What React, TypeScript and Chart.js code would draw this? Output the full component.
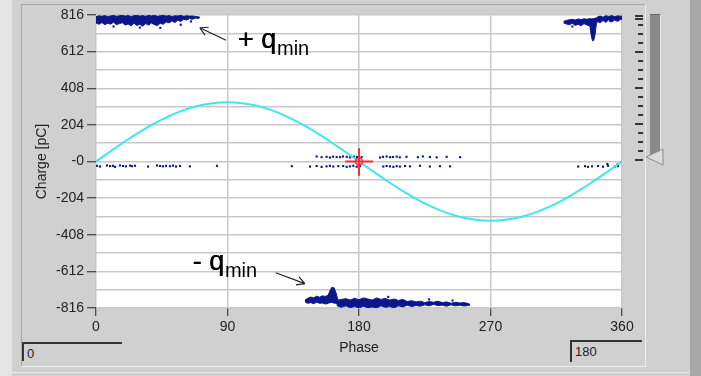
import React, { useEffect, useRef } from 'react';
import { Chart, registerables } from 'chart.js';
Chart.register(...registerables);

// ---------- data ----------
const phaseTicks = [0, 90, 180, 270, 360];
const chargeTicks = [816, 612, 408, 204, 0, -204, -408, -612, -816];

// applied voltage reference (cyan)
const sinePhase = [0, 10, 20, 30, 40, 50, 60, 70, 80, 90, 100, 110, 120, 130, 140, 150, 160, 170, 180, 190, 200, 210, 220, 230, 240, 250, 260, 270, 280, 290, 300, 310, 320, 330, 340, 350, 360];
const sineCharge = [0, 57, 113, 165, 212, 253, 286, 310, 325, 330, 325, 310, 286, 253, 212, 165, 113, 57, 0, -57, -113, -165, -212, -253, -286, -310, -325, -330, -325, -310, -286, -253, -212, -165, -113, -57, 0];

// +q cluster, start of cycle
const topLeftPhase = [0, 2, 4, 6, 8, 10, 12, 14, 16, 18, 20, 22, 24, 26, 28, 30, 32, 34, 36, 38, 40, 42, 44, 46, 48, 50, 52, 54, 56, 58, 60, 62, 64, 66, 68, 70, 71];
const topLeftUpper = [806, 812, 809, 813, 808, 811, 814, 809, 812, 815, 810, 813, 808, 812, 815, 810, 813, 809, 814, 811, 815, 809, 812, 814, 810, 813, 808, 812, 811, 814, 809, 812, 810, 811, 808, 806, 804];
const topLeftLower = [772, 764, 774, 762, 770, 765, 776, 762, 768, 773, 760, 766, 756, 770, 758, 764, 754, 768, 760, 772, 762, 757, 770, 764, 778, 772, 783, 774, 787, 780, 792, 788, 796, 792, 799, 797, 801];

// +q cluster, end of cycle
const topRightPhase = [320, 322, 324, 326, 328, 330, 332, 334, 336, 338, 339, 339.8, 340.6, 341.5, 342.5, 343.5, 345, 347, 349, 351, 353, 355, 357, 359, 360];
const topRightUpper = [780, 786, 789, 792, 788, 794, 790, 795, 792, 796, 794, 796, 795, 797, 800, 806, 810, 804, 812, 808, 813, 807, 812, 809, 811];
const topRightLower = [772, 766, 762, 770, 758, 764, 756, 768, 760, 755, 700, 672, 674, 705, 770, 780, 772, 786, 775, 790, 778, 788, 780, 792, 790];

// -q cluster
const bottomPhase = [143, 145, 147, 149, 151, 153, 155, 157, 159, 160, 161.5, 163, 164.5, 165.5, 168, 171, 174, 177, 180, 183, 186, 189, 192, 195, 198, 201, 204, 207, 210, 213, 216, 219, 222, 225, 228, 231, 234, 237, 240, 243, 246, 249, 252, 255, 256];
const bottomUpper = [-772, -762, -755, -760, -750, -756, -748, -752, -744, -722, -700, -704, -738, -772, -768, -764, -772, -762, -770, -760, -766, -772, -760, -768, -763, -772, -766, -774, -768, -780, -775, -782, -778, -786, -780, -784, -778, -786, -782, -790, -784, -788, -786, -792, -796];
const bottomLower = [-782, -790, -786, -792, -784, -790, -788, -794, -790, -786, -784, -790, -788, -806, -812, -804, -814, -808, -816, -806, -814, -810, -816, -804, -812, -808, -815, -804, -810, -800, -808, -802, -806, -798, -804, -796, -802, -800, -806, -798, -804, -800, -805, -802, -800];

// scattered small pulses near zero, plus strays around the clusters
const dotPhase = [0.7, 2.7, 7.5, 9.6, 11.6, 13, 16.4, 18.5, 20.5, 23.3, 24.6, 26.7, 35.6, 41.7, 43.8, 45.8, 47.9, 50.6, 52.7, 54.8, 57.5, 64.3, 82.8,
  151, 154.4, 157.8, 160.1, 162.2, 164.7, 167, 169, 171.6, 173.8, 176.6, 178.6, 181.8, 194.4, 196.4, 198.9, 201.2, 203.2, 205.8, 207.9, 212.5, 220.3, 223.7, 228.5, 233.2, 240, 249.2,
  134, 146.5, 151, 154.4, 157.8, 160.1, 162.4, 165.8, 169.2, 171.6, 173.8, 176.1, 178.4, 180.7, 196.6, 198.9, 201.2, 203.5, 205.8, 208, 211.5, 214.9, 221.7, 228.5, 235.4, 242.3,
  330, 334.7, 336.7, 339.5, 343.6, 347, 350.4, 355.2, 357.3, 350, 357,
  12, 30, 44, 58, 65, 200, 228, 244, 326, 352];
const dotCharge = [-24, -28, -22, -26, -24, -30, -22, -25, -27, -23, -26, -24, -28, -22, -25, -27, -24, -26, -23, -28, -25, -27, -24,
  28, 24, 26, 22, 27, 25, 24, 28, 26, 23, 27, 25, 24, 22, 26, 28, 24, 25, 27, 23, 26, 24, 28, 25, 23, 26, 24,
  -26, -28, -25, -30, -27, -24, -28, -26, -25, -30, -27, -24, -29, -26, -28, -25, -27, -30, -26, -28, -25, -27, -24, -28, -26, -27,
  -28, -26, -30, -27, -25, -29, -24, -28, -26, -14, -16,
  752, 746, 744, 762, 780, -754, -768, -774, 752, 782];

// cursor at (180, 0)
const cursorPhase = 180;
const cursorCharge = 0;

// ---------- helpers ----------
const pts = (xs: number[], ys: number[]) => xs.map((x, i) => ({ x, y: ys[i] }));
const NAVY = '#0c168c';

export default function App() {
  const ref = useRef<HTMLCanvasElement | null>(null);

  useEffect(() => {
    const canvas = ref.current;
    if (!canvas) return;

    const bgPlugin = {
      id: 'plotBg',
      beforeDraw(chart: any) {
        const { ctx, chartArea: a } = chart;
        ctx.save();
        ctx.fillStyle = '#ffffff';
        ctx.fillRect(a.left, a.top, a.right - a.left, a.bottom - a.top);
        ctx.restore();
      },
    };

    const arrow = (ctx: any, x1: number, y1: number, x2: number, y2: number) => {
      ctx.beginPath();
      ctx.moveTo(x1, y1);
      ctx.lineTo(x2, y2);
      const ang = Math.atan2(y2 - y1, x2 - x1);
      const L = 9;
      ctx.moveTo(x2, y2);
      ctx.lineTo(x2 - L * Math.cos(ang - 0.5), y2 - L * Math.sin(ang - 0.5));
      ctx.moveTo(x2, y2);
      ctx.lineTo(x2 - L * Math.cos(ang + 0.5), y2 - L * Math.sin(ang + 0.5));
      ctx.stroke();
    };

    const labelPlugin = {
      id: 'qLabels',
      afterDraw(chart: any) {
        const { ctx } = chart;
        const xs = chart.scales.x;
        const ys = chart.scales.y;
        const X = (v: number) => xs.getPixelForValue(v);
        const Y = (v: number) => ys.getPixelForValue(v);
        ctx.save();
        ctx.strokeStyle = '#222';
        ctx.lineWidth = 1.2;
        arrow(ctx, X(89), Y(675), X(71), Y(745));
        arrow(ctx, X(123), Y(-620), X(143), Y(-680));
        ctx.fillStyle = '#000';
        ctx.textBaseline = 'alphabetic';
        ctx.textAlign = 'left';
        const big = '27px "Liberation Sans", Arial, sans-serif';
        const small = '20px "Liberation Sans", Arial, sans-serif';
        ctx.font = big;
        let t = '+ q';
        let x0 = X(97);
        ctx.fillText(t, x0, Y(632));
        ctx.fillText(t, x0 + 0.5, Y(632));
        let w = ctx.measureText(t).width;
        ctx.font = small;
        ctx.fillText('min', x0 + w + 1, Y(594));
        ctx.font = big;
        t = '- q';
        x0 = X(66);
        ctx.fillText(t, x0, Y(-606));
        ctx.fillText(t, x0 + 0.5, Y(-606));
        w = ctx.measureText(t).width;
        ctx.font = small;
        ctx.fillText('min', x0 + w + 1, Y(-646));
        ctx.restore();
      },
    };

    const chart = new Chart(canvas, {
      type: 'scatter',
      data: {
        datasets: [
          {
            data: [{ x: cursorPhase, y: cursorCharge }],
            pointRadius: 3.5,
            pointBorderColor: '#ff2a2a',
            pointBackgroundColor: 'rgba(0,0,0,0)',
            pointBorderWidth: 1.5,
          },
          {
            data: [{ x: cursorPhase - 9.5, y: cursorCharge }, { x: cursorPhase + 9.5, y: cursorCharge }],
            showLine: true,
            borderColor: '#ff2a2a',
            borderWidth: 2,
            pointRadius: 0,
          },
          {
            data: [{ x: cursorPhase, y: cursorCharge + 74 }, { x: cursorPhase, y: cursorCharge - 80 }],
            showLine: true,
            borderColor: '#ff2a2a',
            borderWidth: 2,
            pointRadius: 0,
          },
          {
            data: pts(sinePhase, sineCharge),
            showLine: true,
            borderColor: '#3ee6ee',
            borderWidth: 2,
            pointRadius: 0,
            tension: 0.3,
          },
          {
            data: pts(dotPhase, dotCharge),
            pointStyle: 'rect',
            pointRadius: 1.5,
            pointBackgroundColor: NAVY,
            pointBorderWidth: 0,
          },
          {
            data: pts(topLeftPhase, topLeftUpper),
            showLine: true, borderColor: NAVY, borderWidth: 1, pointRadius: 0,
            fill: '+1', backgroundColor: NAVY,
          },
          { data: pts(topLeftPhase, topLeftLower), showLine: true, borderColor: NAVY, borderWidth: 1, pointRadius: 0 },
          {
            data: pts(topRightPhase, topRightUpper),
            showLine: true, borderColor: NAVY, borderWidth: 1, pointRadius: 0,
            fill: '+1', backgroundColor: NAVY,
          },
          { data: pts(topRightPhase, topRightLower), showLine: true, borderColor: NAVY, borderWidth: 1, pointRadius: 0 },
          {
            data: pts(bottomPhase, bottomUpper),
            showLine: true, borderColor: NAVY, borderWidth: 1, pointRadius: 0,
            fill: '+1', backgroundColor: NAVY,
          },
          { data: pts(bottomPhase, bottomLower), showLine: true, borderColor: NAVY, borderWidth: 1, pointRadius: 0 },
        ],
      },
      options: {
        animation: false,
        responsive: false,
        devicePixelRatio: 1,
        events: [],
        layout: { padding: { top: 15, right: 79, left: 0, bottom: 0 } },
        plugins: { legend: { display: false }, tooltip: { enabled: false } },
        scales: {
          x: {
            type: 'linear',
            min: phaseTicks[0],
            max: phaseTicks[phaseTicks.length - 1],
            afterBuildTicks: (s: any) => { s.ticks = phaseTicks.map((v) => ({ value: v })); },
            afterFit: (s: any) => { s.height = 68; },
            border: { display: false },
            grid: { color: '#c8c8c8', lineWidth: 1.5, tickColor: '#222', tickLength: 8, tickWidth: 1 },
            ticks: {
              color: '#222', padding: 3,
              font: { family: '"Liberation Sans", Arial, sans-serif', size: 14 },
              maxRotation: 0, autoSkip: false,
            },
            title: {
              display: true, text: 'Phase', color: '#222',
              font: { family: '"Liberation Sans", Arial, sans-serif', size: 14 },
              padding: { top: 0, bottom: 19.5 },
            },
          },
          y: {
            type: 'linear',
            min: chargeTicks[chargeTicks.length - 1],
            max: chargeTicks[0],
            afterBuildTicks: (s: any) => {
              const t: any[] = [];
              for (let i = 0; i < chargeTicks.length; i++) {
                t.push({ value: chargeTicks[i] });
                if (i < chargeTicks.length - 1) t.push({ value: (chargeTicks[i] + chargeTicks[i + 1]) / 2, minor: true });
              }
              s.ticks = t.reverse();
            },
            afterFit: (s: any) => { s.width = 96; },
            border: { display: false },
            grid: {
              color: '#c8c8c8', lineWidth: 1.5, tickLength: 9, tickWidth: 1,
              tickColor: (c: any) => (c.tick && chargeTicks.includes(c.tick.value) ? '#222' : 'rgba(0,0,0,0)'),
            },
            ticks: {
              color: '#222', padding: 3, autoSkip: false,
              font: { family: '"Liberation Sans", Arial, sans-serif', size: 14 },
              callback: (v: any) => (chargeTicks.includes(Number(v)) ? (Number(v) === 0 ? '-0' : String(v)) : ''),
            },
            title: {
              display: true, text: 'Charge [pC]', color: '#222',
              font: { family: '"Liberation Sans", Arial, sans-serif', size: 14 },
              padding: { top: 33.5, bottom: 0 },
            },
          },
        },
      },
      plugins: [bgPlugin, labelPlugin],
    } as any);

    return () => chart.destroy();
  }, []);

  const sliderTicks: { y: number; long: boolean }[] = [];
  for (let i = 0; i <= 16; i++) sliderTicks.push({ y: 16 + i * 9, long: i % 4 === 0 });

  const font = '"Liberation Sans", Arial, sans-serif';

  return (
    <div style={{ position: 'fixed', left: 0, top: 0, width: 701, height: 376, background: '#d0d0d0', overflow: 'hidden', fontFamily: font }}>
      {/* outer frame decoration */}
      <div style={{ position: 'absolute', left: 0, top: 0, width: 12, height: 376, background: '#e4e4e4' }} />
      <div style={{ position: 'absolute', left: 21, top: 4, width: 1, height: 362, background: '#a6a6a6' }} />
      <div style={{ position: 'absolute', left: 21, top: 4, width: 624, height: 1, background: '#a6a6a6' }} />
      <div style={{ position: 'absolute', left: 645, top: 4, width: 1, height: 362, background: '#ececec' }} />
      <div style={{ position: 'absolute', left: 21, top: 366, width: 625, height: 1, background: '#ececec' }} />
      <div style={{ position: 'absolute', left: 690, top: 0, width: 11, height: 376, background: '#a8a8a8' }} />
      <div style={{ position: 'absolute', left: 12, top: 372, width: 678, height: 1, background: '#e8e8e8' }} />

      {/* slider */}
      {sliderTicks.map((t, i) => (
        <div key={i} style={{ position: 'absolute', left: t.long ? 635 : 638, top: t.y - 1, width: t.long ? 8 : 5, height: 2, background: '#333' }} />
      ))}
      <div style={{ position: 'absolute', left: 635, top: 18, width: 8, height: 2, background: '#333' }} />
      <div style={{ position: 'absolute', left: 650, top: 14, width: 10, height: 140, background: '#8a8a8a', borderRight: '1px solid #e8e8e8', borderTop: '1px solid #6a6a6a' }} />
      <svg style={{ position: 'absolute', left: 644, top: 147 }} width={22} height={20}>
        <polygon points="2,10 19,2 19,18" fill="#dcdcdc" stroke="#8a8a8a" strokeWidth={1} />
      </svg>

      {/* value boxes */}
      <div style={{ position: 'absolute', left: 22, top: 342, width: 100, height: 19, borderTop: '2px solid #333', borderLeft: '2px solid #333', background: '#d0d0d0', fontSize: 13, lineHeight: '19px', paddingLeft: 3, boxSizing: 'border-box', color: '#222' }}>0</div>
      <div style={{ position: 'absolute', left: 570, top: 340, width: 72, height: 22, borderTop: '2px solid #333', borderLeft: '2px solid #333', background: '#d0d0d0', fontSize: 13, lineHeight: '20px', paddingLeft: 3, boxSizing: 'border-box', color: '#222' }}>180</div>

      <canvas ref={ref} width={701} height={376} style={{ position: 'absolute', left: 0, top: 0, width: 701, height: 376 }} />
    </div>
  );
}
